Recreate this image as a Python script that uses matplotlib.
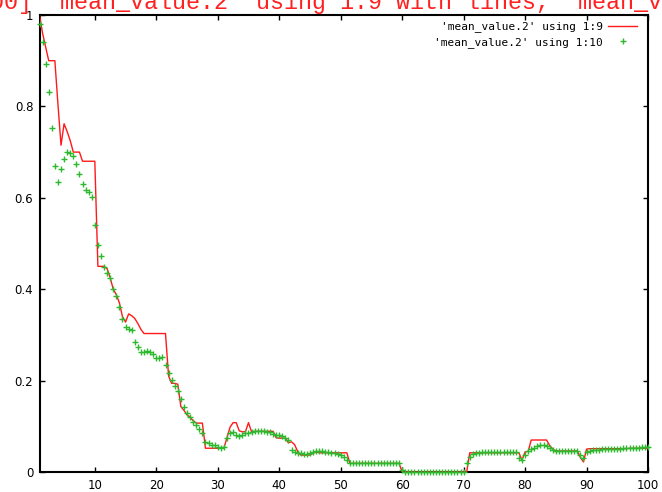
import numpy as np
import matplotlib
matplotlib.use("Agg")
import matplotlib.pyplot as plt

# sample grid of the data file (column 1): 1, 1.5, 2, ... 100
x = np.arange(1, 100.5, 0.5)

# column 9 (drawn with lines)
col9 = [
    1.000, 0.960, 0.930, 0.900, 0.900, 0.900, 0.805, 0.715, 0.762, 0.745,
    0.725, 0.700, 0.700, 0.700, 0.680, 0.680, 0.680, 0.680, 0.680, 0.450,
    0.450, 0.450, 0.445, 0.425, 0.400, 0.388, 0.370, 0.340, 0.328, 0.346,
    0.342, 0.336, 0.325, 0.312, 0.303, 0.303, 0.303, 0.303, 0.303, 0.303,
    0.303, 0.303, 0.210, 0.194, 0.194, 0.192, 0.143, 0.135, 0.125, 0.120,
    0.112, 0.107, 0.107, 0.107, 0.052, 0.052, 0.052, 0.052, 0.052, 0.052,
    0.052, 0.075, 0.098, 0.108, 0.108, 0.090, 0.088, 0.088, 0.108, 0.088,
    0.089, 0.089, 0.089, 0.089, 0.089, 0.089, 0.089, 0.075, 0.074, 0.074,
    0.074, 0.064, 0.066, 0.060, 0.045, 0.037, 0.037, 0.037, 0.037, 0.041,
    0.044, 0.042, 0.042, 0.042, 0.042, 0.042, 0.042, 0.042, 0.042, 0.042,
    0.042, 0.019, 0.019, 0.019, 0.019, 0.019, 0.019, 0.019, 0.019, 0.019,
    0.019, 0.019, 0.019, 0.019, 0.019, 0.019, 0.019, 0.019, 0.000, 0.000,
    0.000, 0.000, 0.000, 0.000, 0.000, 0.000, 0.000, 0.000, 0.000, 0.000,
    0.000, 0.000, 0.000, 0.000, 0.000, 0.000, 0.000, 0.000, 0.000, 0.000,
    0.042, 0.042, 0.042, 0.042, 0.042, 0.042, 0.042, 0.042, 0.042, 0.042,
    0.042, 0.042, 0.042, 0.042, 0.042, 0.042, 0.042, 0.026, 0.044, 0.045,
    0.070, 0.070, 0.070, 0.070, 0.070, 0.070, 0.058, 0.050, 0.046, 0.046,
    0.046, 0.046, 0.046, 0.046, 0.046, 0.046, 0.032, 0.022, 0.050, 0.051,
    0.051, 0.051, 0.051, 0.051, 0.051, 0.051, 0.051, 0.051, 0.051, 0.051,
    0.051, 0.051, 0.052, 0.052, 0.052, 0.052, 0.052, 0.052, 0.052,
]

# column 10 (drawn with points)
col10 = [
    0.980, 0.942, 0.892, 0.832, 0.753, 0.670, 0.635, 0.663, 0.685, 0.700,
    0.697, 0.692, 0.673, 0.652, 0.631, 0.616, 0.613, 0.602, 0.540, 0.497,
    0.473, 0.449, 0.436, 0.424, 0.400, 0.385, 0.362, 0.334, 0.318, 0.312,
    0.311, 0.285, 0.273, 0.262, 0.262, 0.265, 0.262, 0.258, 0.250, 0.249,
    0.252, 0.234, 0.216, 0.201, 0.189, 0.178, 0.160, 0.143, 0.130, 0.121,
    0.109, 0.103, 0.095, 0.085, 0.066, 0.063, 0.060, 0.058, 0.055, 0.052,
    0.055, 0.075, 0.085, 0.088, 0.081, 0.078, 0.080, 0.085, 0.086, 0.088,
    0.089, 0.090, 0.090, 0.090, 0.088, 0.087, 0.084, 0.081, 0.080, 0.078,
    0.075, 0.070, 0.048, 0.044, 0.042, 0.041, 0.040, 0.040, 0.041, 0.043,
    0.045, 0.046, 0.045, 0.044, 0.043, 0.042, 0.041, 0.039, 0.037, 0.032,
    0.026, 0.019, 0.019, 0.019, 0.019, 0.019, 0.019, 0.019, 0.019, 0.019,
    0.019, 0.019, 0.019, 0.019, 0.019, 0.019, 0.019, 0.019, 0.005, 0.000,
    0.000, 0.000, 0.000, 0.000, 0.000, 0.000, 0.000, 0.000, 0.000, 0.000,
    0.000, 0.000, 0.000, 0.000, 0.000, 0.000, 0.000, 0.000, 0.000, 0.020,
    0.033, 0.039, 0.041, 0.042, 0.043, 0.043, 0.043, 0.043, 0.043, 0.043,
    0.043, 0.043, 0.043, 0.043, 0.043, 0.043, 0.030, 0.026, 0.037, 0.047,
    0.051, 0.053, 0.057, 0.058, 0.059, 0.057, 0.053, 0.048, 0.046, 0.046,
    0.046, 0.046, 0.046, 0.046, 0.046, 0.046, 0.038, 0.030, 0.043, 0.047,
    0.048, 0.049, 0.049, 0.050, 0.050, 0.050, 0.050, 0.051, 0.051, 0.051,
    0.052, 0.052, 0.052, 0.053, 0.053, 0.053, 0.054, 0.054, 0.055,
]

xticks = [10, 20, 30, 40, 50, 60, 70, 80, 90, 100]
yticks = [0, 0.2, 0.4, 0.6, 0.8, 1]
ytick_labels = ["0", "0.2", "0.4", "0.6", "0.8", "1"]

title = ("plot [1:100] 'mean_value.2' using 1:9 with lines, "
         "'mean_value.2' using 1:10")
label9 = "'mean_value.2' using 1:9"
label10 = "'mean_value.2' using 1:10"

W, H = 662, 492
fig = plt.figure(figsize=(W / 100, H / 100), dpi=100)
ax = fig.add_axes([39.5 / W, 20 / H, (648 - 39.5) / W, (472 - 15) / H])

ax.plot(x, col9, color="#ff1a1a", lw=1.0, label=label9, zorder=3)
ax.plot(x, col10, ls="none", marker="+", ms=5, mew=1.0, color="#2db82d",
        label=label10, zorder=4, clip_on=False)

ax.set_xlim(1, 100)
ax.set_ylim(0, 1)
ax.set_xticks(xticks)
ax.set_yticks(yticks)
ax.set_yticklabels(ytick_labels)
ax.tick_params(direction="in", length=3.6, width=1.0, top=True, right=True,
               labelsize=8.5, colors="black")
ax.tick_params(axis="x", pad=5)
ax.tick_params(axis="y", pad=4.5)
for sp in ax.spines.values():
    sp.set_linewidth(1.5)

leg = ax.legend(loc="upper right", bbox_to_anchor=(0.982, 0.986),
                frameon=False, markerfirst=False, numpoints=1,
                handlelength=2.6, handletextpad=0.45, labelspacing=0.4,
                borderpad=0, borderaxespad=0,
                prop={"family": "DejaVu Sans Mono", "size": 8})

# the command line title, wider than the window and cut at the top
fig.text(-136 / W, 1 - 9 / H, title, ha="left", va="baseline",
         color="#ff2020", family="Liberation Mono", fontsize=16.8)

fig.savefig("out.png", dpi=100)
